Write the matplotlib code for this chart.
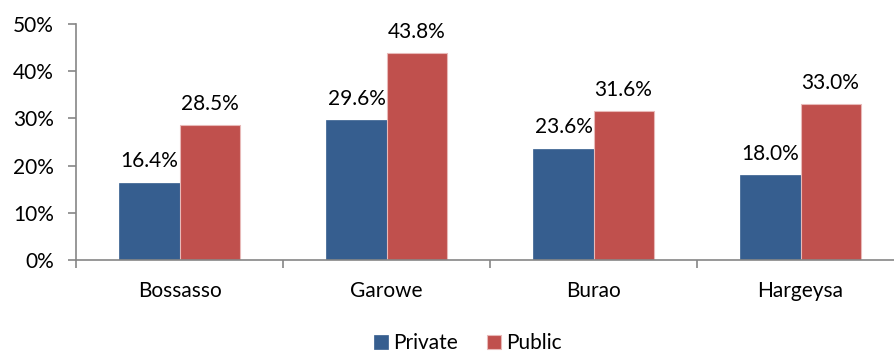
import matplotlib
matplotlib.use("Agg")
import matplotlib.pyplot as plt
import numpy as np
from matplotlib.ticker import FixedLocator, PercentFormatter

cities = ["Bossasso", "Garowe", "Burao", "Hargeysa"]
private = [16.4, 29.6, 23.6, 18.0]
public = [28.5, 43.8, 31.6, 33.0]

plt.rcParams['font.family'] = ['Lato', 'DejaVu Sans']
FS = 15

W, H = 894, 354
fig = plt.figure(figsize=(W / 100, H / 100), dpi=100)
# axes extends a bit past the right edge, like the original
ax = fig.add_axes([76 / W, 94 / H, 828 / W, 236 / H])

x = np.arange(len(cities))
bw = 0.29
b1 = ax.bar(x - bw / 2, private, bw, color="#365E8F", edgecolor="#365E8F", linewidth=0.5, label="Private")
b2 = ax.bar(x + bw / 2, public, bw, color="#C0504D", edgecolor="#E8B9B8", linewidth=0.8, label="Public")

for bars in (b1, b2):
    for r in bars:
        v = r.get_height()
        ax.annotate(f"{v:.1f}%", (r.get_x() + r.get_width() / 2, v),
                    xytext=(0, 8), textcoords="offset points",
                    ha="center", va="bottom", fontsize=FS)

ax.set_xlim(-0.5, 3.5)
ax.set_ylim(0, 50)
ax.yaxis.set_major_locator(FixedLocator([0, 10, 20, 30, 40, 50]))
ax.yaxis.set_major_formatter(PercentFormatter(decimals=0))

ax.xaxis.set_major_locator(FixedLocator([-0.5, 0.5, 1.5, 2.5, 3.5]))
ax.xaxis.set_major_formatter(plt.NullFormatter())
ax.xaxis.set_minor_locator(FixedLocator(x))
ax.set_xticklabels(cities, minor=True)

for s in ("top", "right"):
    ax.spines[s].set_visible(False)
for s in ("left", "bottom"):
    ax.spines[s].set_color("#868686")
    ax.spines[s].set_linewidth(1.2)

ax.tick_params(axis="y", length=6, width=1.2, color="#868686", pad=10, labelsize=FS)
ax.tick_params(axis="x", which="major", length=6, width=1.2, color="#868686")
ax.tick_params(axis="x", which="minor", length=0, pad=15, labelsize=FS)

fig.legend(handles=[b1, b2], loc="center", bbox_to_anchor=(468 / W, 1 - 343 / H),
           ncol=2, frameon=False, fontsize=FS, handlelength=0.65, handleheight=0.65,
           handletextpad=0.25, columnspacing=1.4)

fig.savefig("out.png", dpi=100)
